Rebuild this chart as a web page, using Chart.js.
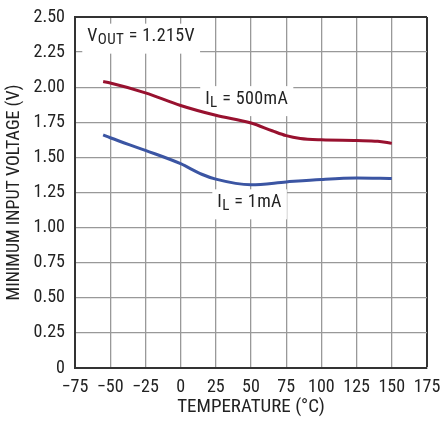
<!DOCTYPE html>
<html><head><meta charset="utf-8">
<script src="https://cdn.jsdelivr.net/npm/chart.js@4"></script>
<style>html,body{margin:0;padding:0;background:#fff}#wrap{width:445px;height:423px}</style>
</head><body><div id="wrap"><canvas id="c" width="445" height="423"></canvas></div>
<script>
const temps500 = [-55, -50, -25, 0, 25, 50, 65, 75, 85, 100, 125, 140, 150];
const vin500   = [2.04, 2.03, 1.96, 1.87, 1.80, 1.745, 1.69, 1.655, 1.635, 1.625, 1.62, 1.615, 1.60];
const temps1   = [-55, -50, -25, 0, 15, 25, 50, 75, 100, 125, 150];
const vin1     = [1.66, 1.64, 1.55, 1.455, 1.38, 1.345, 1.305, 1.325, 1.343, 1.353, 1.35];
const xTicks = [-75, -50, -25, 0, 25, 50, 75, 100, 125, 150, 175];
const yTicks = [0, 0.25, 0.5, 0.75, 1.0, 1.25, 1.5, 1.75, 2.0, 2.25, 2.5];
const labels = [
  {x: -28, y: 2.36, parts: [['V', 0], ['OUT', 1], [' = 1.215V', 0]]},
  {x: 47, y: 1.915, parts: [['I', 0], ['L', 1], [' = 500mA', 0]]},
  {x: 49, y: 1.18, parts: [['I', 0], ['L', 1], [' = 1mA', 0]]}
];
const FONT = '"Liberation Sans Narrow", "Roboto Condensed", "Liberation Sans", sans-serif';
const toPts = (xs, ys) => xs.map((x, i) => ({x, y: ys[i]}));
const noPad = s => { s.paddingTop = 0; s.paddingBottom = 0; s.paddingLeft = 0; s.paddingRight = 0; };

const annot = {
  id: 'annot',
  beforeDatasetsDraw(chart) {
    const ctx = chart.ctx, xs = chart.scales.x, ys = chart.scales.y;
    ctx.save();
    ctx.textBaseline = 'middle';
    if ('letterSpacing' in ctx) ctx.letterSpacing = '0.4px';
    labels.forEach(l => {
      const big = '18px ' + FONT, small = '15px ' + FONT;
      let w = 0;
      l.parts.forEach(p => { ctx.font = p[1] ? small : big; w += ctx.measureText(p[0]).width; });
      const cx = xs.getPixelForValue(l.x), cy = ys.getPixelForValue(l.y);
      let x0 = cx - w / 2;
      ctx.fillStyle = '#fff';
      ctx.fillRect(x0 - 5, cy - 13, w + 10, 30);
      ctx.fillStyle = '#222';
      l.parts.forEach(p => {
        ctx.font = p[1] ? small : big;
        ctx.fillText(p[0], x0, p[1] ? cy + 4 : cy);
        x0 += ctx.measureText(p[0]).width;
      });
    });
    ctx.restore();
  }
};

new Chart(document.getElementById('c'), {
  type: 'line',
  data: { datasets: [
    { data: toPts(temps500, vin500), borderColor: '#98112f', borderWidth: 3, pointRadius: 0, cubicInterpolationMode: 'monotone', fill: false },
    { data: toPts(temps1, vin1), borderColor: '#3b55a3', borderWidth: 3, pointRadius: 0, cubicInterpolationMode: 'monotone', fill: false }
  ]},
  options: {
    responsive: false, animation: false, devicePixelRatio: 1,
    layout: { padding: { top: 17, right: 18, left: 0, bottom: 0 } },
    plugins: { legend: { display: false }, tooltip: { enabled: false } },
    scales: {
      x: {
        type: 'linear', min: -75, max: 175,
        afterBuildTicks: s => { s.ticks = xTicks.map(v => ({value: v})); },
        afterFit: s => { s.height = 55; noPad(s); },
        grid: { color: c => c.tick && c.tick.value === 175 ? '#333' : '#999', lineWidth: c => c.tick && c.tick.value === 175 ? 2 : 1.3, drawTicks: false },
        border: { color: '#333', width: 2 },
        ticks: { color: '#222', font: { family: FONT, size: 18 }, padding: 9, maxRotation: 0, autoSkip: false,
          callback: v => String(v).replace('-', '\u2212') },
        title: { display: true, text: 'TEMPERATURE (°C)', color: '#222', font: { family: FONT, size: 19 }, padding: { top: 3 } }
      },
      y: {
        min: 0, max: 2.5,
        afterBuildTicks: s => { s.ticks = yTicks.map(v => ({value: v})); },
        afterFit: s => { s.width = 75; noPad(s); },
        grid: { color: c => c.tick && c.tick.value === 2.5 ? '#333' : '#999', lineWidth: c => c.tick && c.tick.value === 2.5 ? 2 : 1.3, drawTicks: false },
        border: { color: '#333', width: 2 },
        ticks: { color: '#222', font: { family: FONT, size: 18 }, padding: 10, autoSkip: false,
          callback: v => v === 0 ? '0' : v.toFixed(2) },
        title: { display: true, text: 'MINIMUM INPUT VOLTAGE (V)', color: '#222', font: { family: FONT, size: 18 }, padding: { bottom: 0 } }
      }
    }
  },
  plugins: [annot]
});
</script></body></html>
